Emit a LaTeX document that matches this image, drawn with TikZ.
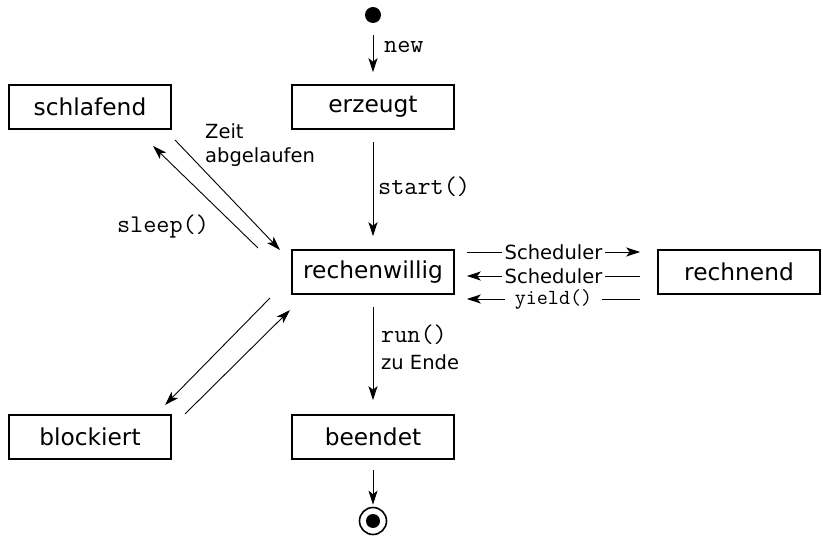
\documentclass[tikz,border=0pt]{standalone}
\usepackage{fontspec}
\setmainfont{DejaVu Sans}
\usetikzlibrary{arrows.meta,calc}
\tikzset{
  state/.style={draw, line width=1.6pt, minimum width=162pt, minimum height=44pt, inner sep=0pt, font=\fontsize{23.3}{26}\selectfont},
  conn/.style={line width=0.9pt, -{Stealth[length=14pt,width=9pt,inset=3.5pt]}},
  lbl/.style={font=\fontsize{19.5}{24}\selectfont, inner sep=1pt},
  code/.style={font=\ttfamily\fontsize{25.5}{26}\selectfont, inner sep=1pt},
  smallcode/.style={font=\ttfamily\fontsize{21.5}{22}\selectfont, inner sep=1pt},
  onwhite/.style={fill=white, inner xsep=3pt}
}
\begin{document}
\begin{tikzpicture}[x=1pt,y=-1pt]
\useasboundingbox (0,0) rectangle (823,545);
% states
\node[state] (schlafend) at (90,107) {schlafend};
\node[state] (erzeugt) at (373,107) {erzeugt};
\node[state] (rw) at (373,272) {rechenwillig};
\node[state] (rechnend) at (739,272) {rechnend};
\node[state] (blockiert) at (90,437) {blockiert};
\node[state] (beendet) at (373,437) {beendet};
% start / end
\node[circle, fill=black, minimum size=16pt, inner sep=0pt] (init) at (373,15) {};
\node[circle, draw, line width=1.6pt, minimum size=27pt, inner sep=0pt] (final) at (373,521) {};
\node[circle, fill=black, minimum size=14pt, inner sep=0pt] (finaldot) at (373,521) {};
% vertical connectors
\draw[conn, shorten <=12pt, shorten >=12pt] (init) -- (erzeugt);
\draw[conn, shorten <=12pt, shorten >=13pt] (erzeugt) -- (rw);
\draw[conn, shorten <=12pt, shorten >=14pt] (rw) -- (beendet);
\draw[conn, shorten <=10pt, shorten >=2pt] (beendet) -- (final);
\node[code, anchor=west] (newl) at (383,47) {new};
\node[code, anchor=west] (startl) at (377,187) {start()};
\node[code, anchor=west] (runl) at (380,335) {run()};
\node[lbl, anchor=west] (endel) at (380,362) {zu Ende};
% diagonal connectors
\coordinate (z1) at (175,140);
\coordinate (z2) at (280,250);
\coordinate (s1) at (258,248);
\coordinate (s2) at (153,146);
\coordinate (b1) at (270,298);
\coordinate (b2) at (165,405);
\coordinate (r1) at (185,414);
\coordinate (r2) at (290,310);
\draw[conn] (z1) -- (z2);
\draw[conn] (s1) -- (s2);
\draw[conn] (b1) -- (b2);
\draw[conn] (r1) -- (r2);
\node[lbl, anchor=west, align=left] (zeitl) at (204,145) {Zeit\\abgelaufen};
\node[code] (sleepl) at (163,226) {sleep()};
% horizontal connectors
\coordinate (h1a) at ($(rw.east)+(12,-20)$);
\coordinate (h1b) at ($(rechnend.west)+(-17,-20)$);
\coordinate (h2a) at ($(rechnend.west)+(-17,4)$);
\coordinate (h2b) at ($(rw.east)+(12,4)$);
\coordinate (h3a) at ($(rechnend.west)+(-17,27)$);
\coordinate (h3b) at ($(rw.east)+(12,27)$);
\draw[conn] (h1a) -- node[lbl, onwhite] (sch1) {Scheduler} (h1b);
\draw[conn] (h2a) -- node[lbl, onwhite] (sch2) {Scheduler} (h2b);
\draw[conn] (h3a) -- node[smallcode, onwhite, inner xsep=10pt] (yieldl) {yield()} (h3b);
\end{tikzpicture}
\end{document}
